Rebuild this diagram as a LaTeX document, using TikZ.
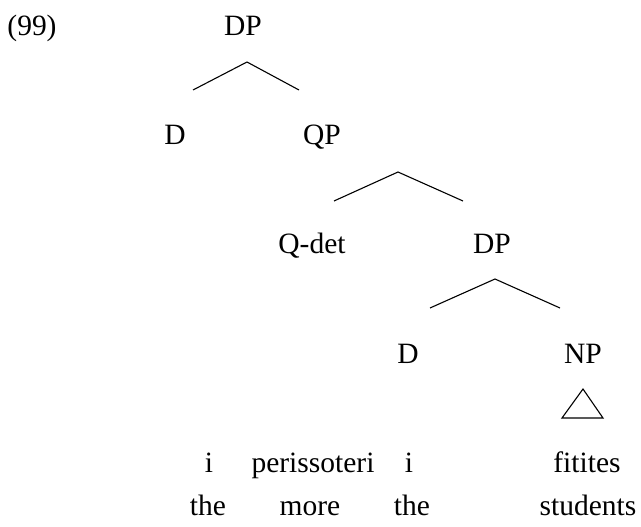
\documentclass[tikz,border=0pt]{standalone}
\usepackage{fontspec}
\setmainfont{Liberation Serif}
\begin{document}
\begin{tikzpicture}[x=1pt,y=-1pt,
  lab/.style={anchor=base,inner sep=0pt,font=\fontsize{29.5}{34}\selectfont},
  branch/.style={line width=1.1pt}]
\useasboundingbox (0,0) rectangle (641,527);
% labels
\node[lab] (ex) at (32,36) {(99)};
\node[lab] (dpa) at (243,36) {DP};
\node[lab] (da) at (175,145) {D};
\node[lab] (qp) at (322,145) {QP};
\node[lab] (qdet) at (312,253) {Q-det};
\node[lab] (dpb) at (492,253) {DP};
\node[lab] (db) at (408,363) {D};
\node[lab] (np) at (583,363) {NP};
% words
\node[lab] (w1) at (209,472) {i};
\node[lab] (w2) at (313,472) {perissoteri};
\node[lab] (w3) at (409,472) {i};
\node[lab] (w4) at (587,472) {fitites};
\node[lab] (g1) at (208,515) {the};
\node[lab] (g2) at (310,515) {more};
\node[lab] (g3) at (412,515) {the};
\node[lab] (g4) at (588,515) {students};
% branch points
\coordinate (a1) at (247,62);  \coordinate (l1) at (193,90);  \coordinate (r1) at (299,90);
\coordinate (a2) at (398,172); \coordinate (l2) at (334,201); \coordinate (r2) at (463,201);
\coordinate (a3) at (495,279); \coordinate (l3) at (430,308); \coordinate (r3) at (560,308);
\coordinate (t1) at (583,389); \coordinate (t2) at (562,418); \coordinate (t3) at (603,418);
\draw[branch] (l1) -- (a1) -- (r1);
\draw[branch] (l2) -- (a2) -- (r2);
\draw[branch] (l3) -- (a3) -- (r3);
\draw[branch,line join=miter] (t1) -- (t2) -- (t3) -- cycle;
\end{tikzpicture}
\end{document}
